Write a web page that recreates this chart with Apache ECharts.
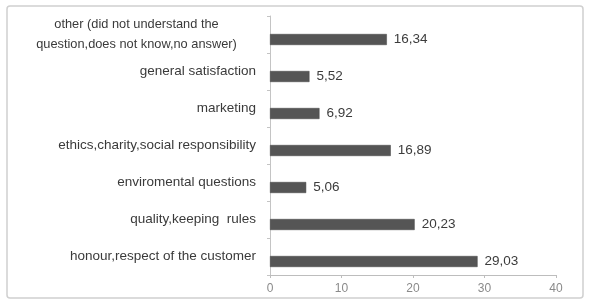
<!DOCTYPE html>
<html>
<head>
<meta charset="utf-8">
<script src="https://cdn.jsdelivr.net/npm/echarts@6/dist/echarts.min.js"></script>
<style>
  html, body { margin: 0; padding: 0; background: #fff; }
  #chart { width: 591px; height: 302px; }
</style>
</head>
<body>
<div id="chart"></div>
<script>
// categories listed bottom to top, as the value axis is horizontal
const categories = [
  'honour,respect of the customer',
  'quality,keeping  rules',
  'enviromental questions',
  'ethics,charity,social responsibility',
  'marketing',
  'general satisfaction',
  'other (did not understand the\nquestion,does not know,no answer)'
]
const values = [29.03, 20.23, 5.06, 16.89, 6.92, 5.52, 16.34]
const xTicks = [0, 10, 20, 30, 40]

const chart = echarts.init(document.getElementById('chart'))

const labelFont = '"Liberation Sans", Arial, sans-serif'

// two-line labels are centred line by line, like the original
const yData = categories.map(c => {
  if (c.indexOf('\n') === -1) return c
  return {
    value: c,
    textStyle: { align: 'center', fontSize: 12.8, padding: [0, 239, 0, 0], lineHeight: 20 }
  }
})

const option = {
  animation: false,
  graphic: [{
    type: 'rect',
    shape: { x: 7, y: 6, width: 576, height: 292, r: 3 },
    style: { fill: 'none', stroke: '#d0d0d0', lineWidth: 1.5 },
    silent: true
  }],
  grid: {
    left: 270,
    right: 35,
    top: 16,
    bottom: 27
  },
  xAxis: {
    type: 'value',
    min: xTicks[0],
    max: xTicks[xTicks.length - 1],
    interval: 10,
    splitLine: { show: false },
    axisLine: { show: true, lineStyle: { color: '#bdbdbd' } },
    axisTick: { show: true, length: 3, lineStyle: { color: '#bdbdbd' } },
    axisLabel: { color: '#8a8a8a', fontSize: 12, fontFamily: labelFont, margin: 8 }
  },
  yAxis: {
    type: 'category',
    data: yData,
    axisLine: { show: true, lineStyle: { color: '#c4c4c4' } },
    axisTick: { show: true, length: 3, lineStyle: { color: '#c4c4c4' } },
    axisLabel: {
      color: '#3a3a3a',
      fontSize: 13.5,
      fontFamily: labelFont,
      margin: 14,
      lineHeight: 20
    }
  },
  series: [
    {
      // empty slot so the drawn bars sit a bit below the band centre
      type: 'bar',
      data: [],
      barWidth: 11,
      silent: true
    },
    {
      type: 'bar',
      data: values,
      barWidth: 11,
      barGap: '-9%',
      itemStyle: { color: '#555555', borderColor: '#444444', borderWidth: 0.5 },
      label: {
        show: true,
        position: 'right',
        distance: 7,
        color: '#3c3c3c',
        fontSize: 13.5,
        fontFamily: labelFont,
        formatter: p => p.value.toFixed(2).replace('.', ',')
      }
    }
  ]
}

chart.setOption(option)
</script>
</body>
</html>
